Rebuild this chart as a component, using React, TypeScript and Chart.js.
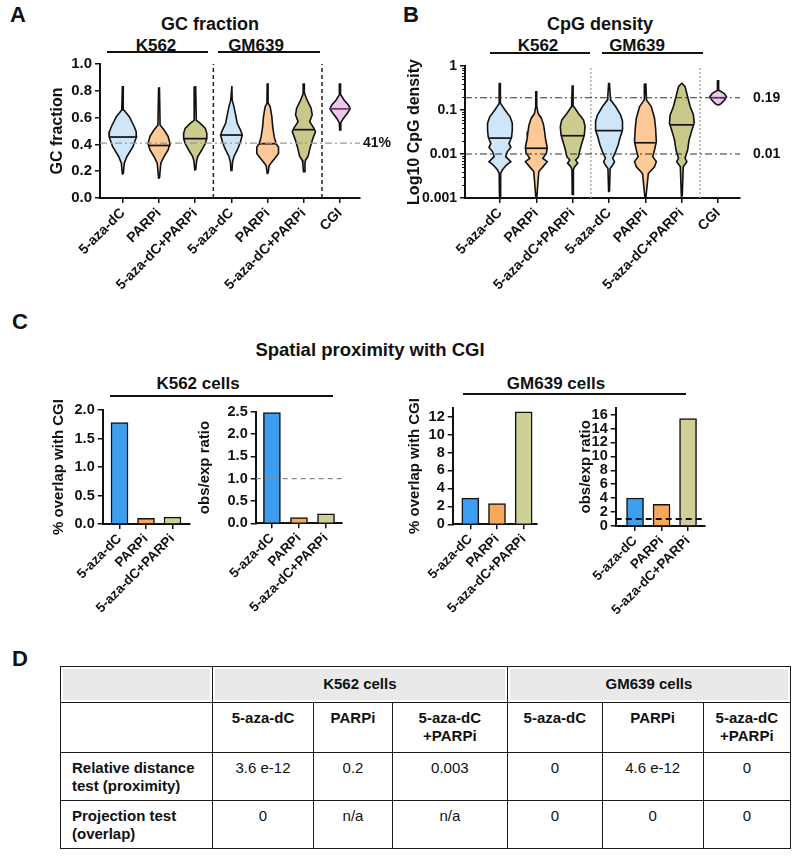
import React, { useEffect, useRef } from "react";
import { Chart, registerables } from "chart.js";

Chart.register(...registerables);

const FONT = '"Liberation Sans", Arial, Helvetica, sans-serif';
const INK = "#111";

// ---------- Panel A / B categories ----------
const violinLabels = ["5-aza-dC", "PARPi", "5-aza-dC+PARPi", "5-aza-dC", "PARPi", "5-aza-dC+PARPi", "CGI"];
const violinFill = ["#cfe5f8", "#fdc996", "#cccc90", "#cfe5f8", "#fdc996", "#c8c88a", "#ecc9ea"];
const medianColors = [INK, INK, INK, INK, INK, INK, "#6b3a6b"];

// GC fraction violins: [value, half-width in category units]
const gcK562Aza = [[0.18, 0.012], [0.26, 0.04], [0.31, 0.115], [0.383, 0.28], [0.458, 0.38], [0.495, 0.37], [0.53, 0.32], [0.607, 0.18], [0.657, 0.03], [0.83, 0.012]];
const gcK562Parp = [[0.147, 0.012], [0.26, 0.05], [0.31, 0.14], [0.358, 0.25], [0.393, 0.29], [0.41, 0.3], [0.46, 0.25], [0.507, 0.14], [0.545, 0.03], [0.82, 0.012]];
const gcK562Combo = [[0.21, 0.012], [0.28, 0.04], [0.31, 0.07], [0.358, 0.18], [0.408, 0.28], [0.445, 0.32], [0.483, 0.32], [0.52, 0.28], [0.557, 0.14], [0.58, 0.03], [0.83, 0.012]];
const gcGmAza = [[0.2, 0.012], [0.27, 0.03], [0.31, 0.07], [0.37, 0.18], [0.42, 0.25], [0.47, 0.3], [0.507, 0.25], [0.557, 0.16], [0.62, 0.115], [0.68, 0.07], [0.73, 0.02], [0.836, 0.012]];
const gcGmParp = [[0.184, 0.012], [0.24, 0.04], [0.26, 0.09], [0.296, 0.2], [0.333, 0.3], [0.378, 0.3], [0.408, 0.23], [0.458, 0.18], [0.53, 0.14], [0.607, 0.115], [0.68, 0.07], [0.706, 0.02], [0.85, 0.012]];
const gcGmCombo = [[0.197, 0.012], [0.26, 0.03], [0.284, 0.05], [0.31, 0.115], [0.383, 0.18], [0.445, 0.25], [0.495, 0.32], [0.52, 0.28], [0.57, 0.16], [0.62, 0.23], [0.67, 0.2], [0.73, 0.09], [0.78, 0.02], [0.85, 0.012]];
const gcCgi = [[0.507, 0.012], [0.56, 0.02], [0.594, 0.09], [0.632, 0.2], [0.664, 0.28], [0.694, 0.23], [0.73, 0.115], [0.77, 0.02], [0.85, 0.012]];
const gcMedians = [0.455, 0.392, 0.443, 0.47, 0.405, 0.51, 0.665];
const gcYTicks = [0, 0.2, 0.4, 0.6, 0.8, 1.0];
const gcGenomeLine = 0.41;

// CpG density violins: [density, half-width in category units]
const cpgK562Aza = [[0.0011, 0.012], [0.0036, 0.02], [0.0044, 0.07], [0.0056, 0.18], [0.0067, 0.3], [0.0087, 0.16], [0.0112, 0.2], [0.0141, 0.3], [0.0174, 0.25], [0.024, 0.32], [0.035, 0.34], [0.05, 0.34], [0.07, 0.28], [0.1, 0.14], [0.14, 0.02], [0.4, 0.012]];
const cpgK562Parp = [[0.001, 0.012], [0.004, 0.07], [0.0051, 0.18], [0.0067, 0.3], [0.008, 0.18], [0.0105, 0.28], [0.014, 0.3], [0.023, 0.25], [0.032, 0.23], [0.046, 0.2], [0.065, 0.14], [0.083, 0.05], [0.12, 0.015], [0.26, 0.012]];
const cpgK562Combo = [[0.0012, 0.012], [0.0044, 0.02], [0.0051, 0.05], [0.0062, 0.14], [0.0073, 0.08], [0.0087, 0.16], [0.0123, 0.2], [0.0174, 0.25], [0.027, 0.32], [0.042, 0.34], [0.059, 0.3], [0.083, 0.16], [0.12, 0.03], [0.35, 0.012]];
const cpgGmAza = [[0.0014, 0.012], [0.0047, 0.03], [0.0056, 0.1], [0.0067, 0.15], [0.008, 0.1], [0.0112, 0.18], [0.016, 0.25], [0.023, 0.3], [0.035, 0.37], [0.055, 0.37], [0.077, 0.32], [0.12, 0.18], [0.17, 0.04], [0.4, 0.012]];
const cpgGmParp = [[0.001, 0.012], [0.0036, 0.08], [0.0051, 0.25], [0.0067, 0.3], [0.0087, 0.2], [0.0123, 0.25], [0.019, 0.3], [0.038, 0.28], [0.065, 0.25], [0.12, 0.16], [0.17, 0.03], [0.39, 0.012]];
const cpgGmCombo = [[0.0011, 0.012], [0.0051, 0.04], [0.0067, 0.14], [0.008, 0.09], [0.0123, 0.16], [0.021, 0.2], [0.035, 0.28], [0.05, 0.34], [0.077, 0.32], [0.12, 0.23], [0.2, 0.16], [0.34, 0.09], [0.4, 0.012]];
const cpgCgi = [[0.13, 0.012], [0.14, 0.08], [0.17, 0.18], [0.2, 0.23], [0.24, 0.16], [0.28, 0.02], [0.46, 0.012]];
const cpgMedians = [0.023, 0.0135, 0.026, 0.034, 0.018, 0.046, 0.19];
const cpgYTicks = [0.001, 0.01, 0.1, 1];
const cpgRefLines = [0.19, 0.01];

// ---------- Panel C ----------
const barLabels = ["5-aza-dC", "PARPi", "5-aza-dC+PARPi"];
const barColors = ["#3d9ef0", "#f9a85a", "#cfd095"];
const k562Overlap = [1.78, 0.1, 0.12];
const k562Ratio = [2.48, 0.13, 0.21];
const gm639Overlap = [2.92, 2.3, 12.55];
const gm639Ratio = [4.02, 3.12, 15.44];
const k562OverlapTicks = [0, 0.5, 1.0, 1.5, 2.0];
const k562RatioTicks = [0, 0.5, 1.0, 1.5, 2.0, 2.5];
const gm639OverlapTicks = [0, 2, 4, 6, 8, 10, 12];
const gm639RatioTicks = [0, 2, 4, 6, 8, 10, 12, 14, 16];
const expectedRatio = 1;

// ---------- Panel D ----------
const tableGroups = ["K562 cells", "GM639 cells"];
const tableTreatments = ["5-aza-dC", "PARPi", "5-aza-dC\n+PARPi", "5-aza-dC", "PARPi", "5-aza-dC\n+PARPi"];
const tableRowLabels = ["Relative distance\ntest (proximity)", "Projection test\n(overlap)"];
const proximityP = ["3.6 e-12", "0.2", "0.003", "0", "4.6 e-12", "0"];
const projectionP = ["0", "n/a", "n/a", "0", "0", "0"];

// ---------- helpers ----------
type Pt = { x: number; y: number };

function outline(profile: number[][], i: number): Pt[] {
  const right = profile.map(([v, w]) => ({ x: i + w, y: v }));
  const left = [...profile].reverse().map(([v, w]) => ({ x: i - w, y: v }));
  return [...right, ...left, right[0]];
}

function widthAt(profile: number[][], v: number, log: boolean) {
  const t = (a: number) => (log ? Math.log10(a) : a);
  for (let k = 0; k < profile.length - 1; k++) {
    const [v0, w0] = profile[k];
    const [v1, w1] = profile[k + 1];
    if (v >= v0 && v <= v1) {
      const f = (t(v) - t(v0)) / (t(v1) - t(v0));
      return w0 + f * (w1 - w0);
    }
  }
  return 0;
}

const fnt = (size: number, weight: string = "bold") => ({ family: FONT, size, weight });

const tickGrid = () => ({
  display: true,
  drawOnChartArea: false,
  drawTicks: true,
  tickLength: 5,
  color: INK,
  lineWidth: 1.5,
  offset: false,
});
const axisBorder = { display: true, color: INK, width: 2 };

function catAxis(labels: string[], min: number, max: number, fontSize: number, height: number) {
  return {
    type: "linear",
    min,
    max,
    offset: false,
    afterBuildTicks: (s: any) => {
      s.ticks = labels.map((_, i) => ({ value: i }));
    },
    afterFit: (s: any) => {
      s.height = height;
    },
    ticks: {
      autoSkip: false,
      minRotation: 45,
      maxRotation: 45,
      color: INK,
      font: fnt(fontSize),
      padding: 2,
      callback: (v: any) => labels[v] ?? "",
    },
    grid: tickGrid(),
    border: axisBorder,
  };
}

function valueAxis(o: {
  type: string; min: number; max: number; ticks: number[]; fmt: (v: number) => string;
  title: string; titleSize: number; tickSize: number; width: number;
}) {
  return {
    type: o.type,
    min: o.min,
    max: o.max,
    afterBuildTicks: (s: any) => {
      s.ticks = o.ticks.map((v) => ({ value: v }));
    },
    afterFit: (s: any) => {
      s.width = o.width;
    },
    ticks: { autoSkip: false, color: INK, font: fnt(o.tickSize), padding: 3, callback: (v: any) => o.fmt(Number(v)) },
    grid: tickGrid(),
    border: axisBorder,
    title: { display: true, text: o.title, color: INK, font: fnt(o.titleSize), padding: 4 },
  };
}

function valueLabelsPlugin(labels: { text: string; value: number; dx: number }[], minorLog: boolean) {
  return {
    id: "valueLabels",
    afterDraw(chart: any) {
      const { ctx, chartArea, scales } = chart;
      ctx.save();
      if (minorLog) {
        ctx.strokeStyle = INK;
        ctx.lineWidth = 1;
        for (const d of [0.001, 0.01, 0.1]) {
          for (let k = 2; k <= 9; k++) {
            const py = Math.round(scales.y.getPixelForValue(d * k)) + 0.5;
            ctx.beginPath();
            ctx.moveTo(chartArea.left - 3, py);
            ctx.lineTo(chartArea.left, py);
            ctx.stroke();
          }
        }
      }
      ctx.font = `bold 14px ${FONT}`;
      ctx.fillStyle = INK;
      ctx.textBaseline = "middle";
      ctx.textAlign = "left";
      for (const l of labels) {
        ctx.fillText(l.text, chartArea.right + l.dx, scales.y.getPixelForValue(l.value));
      }
      ctx.restore();
    },
  };
}

function lineDs(data: Pt[], color: string, dash: number[], width: number, order: number) {
  return {
    data,
    showLine: true,
    borderColor: color,
    borderDash: dash,
    borderWidth: width,
    pointRadius: 0,
    pointHoverRadius: 0,
    fill: false,
    tension: 0,
    order,
  };
}

function violinConfig(o: {
  profiles: number[][][]; medians: number[]; log: boolean;
  xMin: number; xMax: number; yMin: number; yMax: number; yTicks: number[]; fmt: (v: number) => string;
  yTitle: string; tickSize: number;
  hLines: { value: number; color: string; dash: number[]; width: number }[];
  vLines: { value: number; color: string; dash: number[]; width: number }[];
  pad: { left: number; top: number; right: number }; yWidth: number; xHeight: number;
  labels: { text: string; value: number; dx: number }[];
}) {
  const datasets: any[] = [];
  o.hLines.forEach((h) =>
    datasets.push(lineDs([{ x: o.xMin, y: h.value }, { x: o.xMax, y: h.value }], h.color, h.dash, h.width, 0))
  );
  o.vLines.forEach((v) =>
    datasets.push(lineDs([{ x: v.value, y: o.yMin }, { x: v.value, y: o.yMax }], v.color, v.dash, v.width, 0))
  );
  o.profiles.forEach((p, i) => {
    const hw = widthAt(p, o.medians[i], o.log);
    datasets.push(lineDs([{ x: i - hw, y: o.medians[i] }, { x: i + hw, y: o.medians[i] }], medianColors[i], [], 1.7, 1));
  });
  o.profiles.forEach((p, i) => {
    datasets.push({
      data: outline(p, i),
      showLine: true,
      borderColor: INK,
      borderWidth: 1.6,
      backgroundColor: violinFill[i],
      fill: "shape",
      pointRadius: 0,
      pointHoverRadius: 0,
      tension: 0,
      order: 2,
    });
  });
  return {
    type: "scatter",
    data: { datasets },
    options: {
      animation: false,
      responsive: false,
      events: [],
      layout: { padding: { left: o.pad.left, top: o.pad.top, right: o.pad.right, bottom: 0 } },
      plugins: { legend: { display: false }, tooltip: { enabled: false } },
      scales: {
        x: catAxis(violinLabels, o.xMin, o.xMax, 14, o.xHeight),
        y: valueAxis({
          type: o.log ? "logarithmic" : "linear",
          min: o.yMin, max: o.yMax, ticks: o.yTicks, fmt: o.fmt,
          title: o.yTitle, titleSize: 16, tickSize: o.tickSize, width: o.yWidth,
        }),
      },
    },
    plugins: [valueLabelsPlugin(o.labels, o.log)],
  };
}

function barConfig(o: {
  values: number[]; yMax: number; yTicks: number[]; fmt: (v: number) => string; title: string;
  xMin: number; xMax: number; pad: { left: number; top: number; right: number }; yWidth: number; xHeight: number;
  ref?: { color: string; dash: number[]; width: number };
}) {
  const datasets: any[] = [
    {
      type: "bar",
      data: o.values.map((v, i) => ({ x: i, y: v })),
      backgroundColor: barColors,
      borderColor: INK,
      borderWidth: 1.5,
      barThickness: 17,
      order: 1,
    },
  ];
  if (o.ref) {
    datasets.push({
      type: "line",
      ...lineDs([{ x: o.xMin, y: expectedRatio }, { x: o.xMax, y: expectedRatio }], o.ref.color, o.ref.dash, o.ref.width, 0),
    });
  }
  return {
    type: "bar",
    data: { datasets },
    options: {
      animation: false,
      responsive: false,
      events: [],
      layout: { padding: { left: o.pad.left, top: o.pad.top, right: o.pad.right, bottom: 0 } },
      plugins: { legend: { display: false }, tooltip: { enabled: false } },
      scales: {
        x: catAxis(barLabels, o.xMin, o.xMax, 13.5, o.xHeight),
        y: valueAxis({
          type: "linear", min: 0, max: o.yMax, ticks: o.yTicks, fmt: o.fmt,
          title: o.title, titleSize: 15, tickSize: 14.5, width: o.yWidth,
        }),
      },
    },
  };
}

const fmt1 = (v: number) => v.toFixed(1);
const fmt0 = (v: number) => String(Math.round(v));
const fmtLog = (v: number) => String(v);

const makeGc = () =>
  violinConfig({
    profiles: [gcK562Aza, gcK562Parp, gcK562Combo, gcGmAza, gcGmParp, gcGmCombo, gcCgi],
    medians: gcMedians,
    log: false,
    xMin: -0.63, xMax: 6.55, yMin: 0, yMax: 1, yTicks: gcYTicks, fmt: fmt1,
    yTitle: "GC fraction", tickSize: 15,
    hLines: [{ value: gcGenomeLine, color: "#9a9a9a", dash: [7, 3, 2, 3], width: 1.2 }],
    vLines: [
      { value: 2.5, color: "#222", dash: [4, 3], width: 1.5 },
      { value: 5.5, color: "#222", dash: [4, 3], width: 1.5 },
    ],
    pad: { left: 44.4, top: 64, right: 40 }, yWidth: 55.6, xHeight: 102,
    labels: [{ text: "41%", value: gcGenomeLine, dx: 3 }],
  });

const makeCpg = () =>
  violinConfig({
    profiles: [cpgK562Aza, cpgK562Parp, cpgK562Combo, cpgGmAza, cpgGmParp, cpgGmCombo, cpgCgi],
    medians: cpgMedians,
    log: true,
    xMin: -0.96, xMax: 6.6, yMin: 0.001, yMax: 1, yTicks: cpgYTicks, fmt: fmtLog,
    yTitle: "Log10 CpG density", tickSize: 14,
    hLines: cpgRefLines.map((v) => ({ value: v, color: "#333", dash: [7, 3, 2, 3], width: 1.2 })),
    vLines: [
      { value: 2.5, color: "#aaa", dash: [2, 2], width: 1.5 },
      { value: 5.5, color: "#aaa", dash: [2, 2], width: 1.5 },
    ],
    pad: { left: 1.4, top: 66, right: 60 }, yWidth: 63.6, xHeight: 102,
    labels: cpgRefLines.map((v) => ({ text: String(v), value: v, dx: 13 })),
  });

const makeC1 = () =>
  barConfig({
    values: k562Overlap, yMax: 2, yTicks: k562OverlapTicks, fmt: fmt1, title: "% overlap with CGI",
    xMin: -0.634, xMax: 2.66, pad: { left: 45.5, top: 14, right: 10 }, yWidth: 57.2, xHeight: 96,
  });
const makeC2 = () =>
  barConfig({
    values: k562Ratio, yMax: 2.5, yTicks: k562RatioTicks, fmt: fmt1, title: "obs/exp ratio",
    xMin: -0.6, xMax: 2.58, pad: { left: 6.5, top: 15.7, right: 8.3 }, yWidth: 64.2, xHeight: 96.7,
    ref: { color: "#8a8a8a", dash: [5, 4], width: 1.3 },
  });
const makeC3 = () =>
  barConfig({
    values: gm639Overlap, yMax: 13, yTicks: gm639OverlapTicks, fmt: fmt0, title: "% overlap with CGI",
    xMin: -0.66, xMax: 2.5, pad: { left: 7, top: 10.7, right: 8 }, yWidth: 50.7, xHeight: 95.7,
  });
const makeC4 = () =>
  barConfig({
    values: gm639Ratio, yMax: 17, yTicks: gm639RatioTicks, fmt: fmt0, title: "obs/exp ratio",
    xMin: -0.73, xMax: 2.64, pad: { left: 18, top: 10.7, right: 15 }, yWidth: 42.7, xHeight: 94,
    ref: { color: INK, dash: [6, 4], width: 2 },
  });

function ChartCanvas({ left, top, width, height, make }: any) {
  const ref = useRef<HTMLCanvasElement>(null);
  useEffect(() => {
    const chart = new Chart(ref.current as any, make() as any);
    return () => chart.destroy();
  }, []);
  return (
    <canvas
      ref={ref}
      width={width}
      height={height}
      style={{ position: "absolute", left, top, width, height }}
    />
  );
}

function T({ x, y, size, center = true, children }: any) {
  return (
    <div
      style={{
        position: "absolute",
        left: x,
        top: y,
        fontSize: size,
        fontWeight: "bold",
        lineHeight: 1,
        whiteSpace: "nowrap",
        transform: center ? "translateX(-50%)" : undefined,
      }}
    >
      {children}
    </div>
  );
}

function Rule({ x1, x2, y }: any) {
  return <div style={{ position: "absolute", left: x1, top: y - 1, width: x2 - x1, height: 2, background: INK }} />;
}

const colWidths = [151.7, 101.6, 78.4, 115.3, 94.7, 101, 87.3];
const rowHeights = [35.7, 50.6, 47.7, 48.3];

function ResultsTable() {
  const border = "1.5px solid #1a1a1a";
  const base: any = { border, padding: "6px 3px 0", verticalAlign: "top", textAlign: "center", lineHeight: "18px", whiteSpace: "pre-line" };
  const head: any = { ...base, background: "#e9e9e9", boxShadow: "inset 0 0 0 2px #fff", verticalAlign: "middle", padding: 0, fontWeight: "bold" };
  const rowLabel: any = { ...base, textAlign: "left", paddingLeft: 11, fontWeight: "bold" };
  return (
    <table
      style={{
        position: "absolute", left: 60, top: 666, width: 730, borderCollapse: "collapse",
        tableLayout: "fixed", fontFamily: FONT, fontSize: 15, color: INK,
      }}
    >
      <colgroup>
        {colWidths.map((w, i) => (
          <col key={i} style={{ width: w }} />
        ))}
      </colgroup>
      <tbody>
        <tr style={{ height: rowHeights[0] }}>
          <td style={head}></td>
          {tableGroups.map((g) => (
            <td key={g} colSpan={3} style={head}>{g}</td>
          ))}
        </tr>
        <tr style={{ height: rowHeights[1] }}>
          <td style={base}></td>
          {tableTreatments.map((t, i) => (
            <td key={i} style={{ ...base, fontWeight: "bold" }}>{t}</td>
          ))}
        </tr>
        <tr style={{ height: rowHeights[2] }}>
          <td style={rowLabel}>{tableRowLabels[0]}</td>
          {proximityP.map((p, i) => (
            <td key={i} style={base}>{p}</td>
          ))}
        </tr>
        <tr style={{ height: rowHeights[3] }}>
          <td style={rowLabel}>{tableRowLabels[1]}</td>
          {projectionP.map((p, i) => (
            <td key={i} style={base}>{p}</td>
          ))}
        </tr>
      </tbody>
    </table>
  );
}

export default function App() {
  return (
    <div
      style={{
        position: "absolute", left: 0, top: 0, width: 800, height: 859, background: "#fff",
        overflow: "hidden", fontFamily: FONT, color: INK,
      }}
    >
      {/* Panel letters */}
      <T x={10} y={4} size={22} center={false}>A</T>
      <T x={403} y={4} size={22} center={false}>B</T>
      <T x={12} y={310.5} size={22} center={false}>C</T>
      <T x={12} y={647.5} size={22} center={false}>D</T>

      {/* Panel A headers */}
      <T x={210} y={15.2} size={18}>GC fraction</T>
      <T x={156} y={36.7} size={17}>K562</T>
      <T x={256} y={36.7} size={17}>GM639</T>
      <Rule x1={107} x2={208} y={52} />
      <Rule x1={218} x2={320} y={52} />

      {/* Panel B headers */}
      <T x={600} y={15.2} size={18}>CpG density</T>
      <T x={538} y={36.7} size={17}>K562</T>
      <T x={637} y={36.7} size={17}>GM639</T>
      <Rule x1={490} x2={590} y={53} />
      <Rule x1={602} x2={703} y={53} />

      <ChartCanvas left={0} top={0} width={400} height={300} make={makeGc} />
      <ChartCanvas left={400} top={0} width={400} height={300} make={makeCpg} />

      {/* Panel C headers */}
      <T x={370} y={341} size={18.5}>Spatial proximity with CGI</T>
      <T x={198} y={374.7} size={17}>K562 cells</T>
      <T x={556} y={374.7} size={17}>GM639 cells</T>
      <Rule x1={110} x2={333} y={396} />
      <Rule x1={463} x2={686} y={394} />

      <ChartCanvas left={0} top={396} width={200} height={224} make={makeC1} />
      <ChartCanvas left={185} top={396} width={165} height={224} make={makeC2} />
      <ChartCanvas left={395} top={396} width={150} height={224} make={makeC3} />
      <ChartCanvas left={555} top={396} width={165} height={224} make={makeC4} />

      <ResultsTable />
    </div>
  );
}
